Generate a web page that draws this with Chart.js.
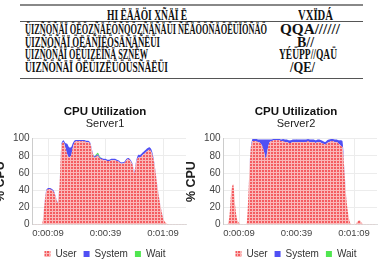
<!DOCTYPE html>
<html lang="en">
<head>
  <meta charset="UTF-8" />
  <title>CPU Utilization</title>
  <script src="https://cdn.jsdelivr.net/npm/chart.js"></script>
  <style>
    * { margin: 0; padding: 0; box-sizing: border-box; }
    html, body { width: 382px; height: 263px; overflow: hidden; background: #fff; }
    .rule { position: absolute; left: 20px; width: 343px; background: #555; }
    .cell {
      position: absolute;
      font-family: 'Liberation Serif', serif;
      font-weight: bold;
      font-size: 14px;
      line-height: 14px;
      color: #111;
      white-space: nowrap;
      transform-origin: 0 0;
    }
    .box { position: absolute; top: 100px; width: 232px; height: 169px; }
  </style>
</head>
<body>

  <!-- table above the charts -->
  <div class="rule" style="top:4px;height:2px;background:#888"></div>
  <div class="rule" style="top:21px;height:1px"></div>
  <div class="rule" style="top:78px;height:1px"></div>

  <div class="cell" data-x="107" data-w="85" style="top:9px">HI ËÄÄÖI XÑÄÏ Ë_</div>
  <div class="cell" data-x="298" data-w="35" style="top:9px">VXÏDÁ</div>

  <div class="cell" data-x="25" data-w="242" style="top:23px">ÜIZÑÖÑÄÏ ÖËÖZÑÄÉÖÑÖÖZÑÄÑÄÜI ÑËÄÖÖÑÄÖËÜÏÖÑÄÖ</div>
  <div class="cell" data-x="280" data-w="60" style="top:23px">QQA//////</div>
  <div class="cell" data-x="25" data-w="135" style="top:36px">ÜIZÑÖÑÄÏ ÖËÄÑÏËÖSÄÑÄÑËÜI</div>
  <div class="cell" data-x="297" data-w="17" style="top:36px">B//</div>
  <div class="cell" data-x="25" data-w="123" style="top:48px">ÜIZÑÖÑÄÏ ÖËÜIZËÏÑÄ SZÑËW</div>
  <div class="cell" data-x="279" data-w="58" style="top:48px">YÉÜPP//QAÜ</div>
  <div class="cell" data-x="25" data-w="143" style="top:61px">ÜIZÑÖÑÄÏ ÖËÜIZËÜÖÜSÑÄËÜI</div>
  <div class="cell" data-x="290" data-w="25" style="top:61px">/QE/</div>

  <div class="box" style="left:-11px"><canvas id="cpu1"></canvas></div>
  <div class="box" style="left:180px"><canvas id="cpu2"></canvas></div>

  <script>
    // seconds since start, one sample per second
    const labels = [
      '0:00:01','0:00:02','0:00:03','0:00:04','0:00:05','0:00:06','0:00:07','0:00:08','0:00:09','0:00:10',
      '0:00:11','0:00:12','0:00:13','0:00:14','0:00:15','0:00:16','0:00:17','0:00:18','0:00:19','0:00:20',
      '0:00:21','0:00:22','0:00:23','0:00:24','0:00:25','0:00:26','0:00:27','0:00:28','0:00:29','0:00:30',
      '0:00:31','0:00:32','0:00:33','0:00:34','0:00:35','0:00:36','0:00:37','0:00:38','0:00:39','0:00:40',
      '0:00:41','0:00:42','0:00:43','0:00:44','0:00:45','0:00:46','0:00:47','0:00:48','0:00:49','0:00:50',
      '0:00:51','0:00:52','0:00:53','0:00:54','0:00:55','0:00:56','0:00:57','0:00:58','0:00:59','0:01:00',
      '0:01:01','0:01:02','0:01:03','0:01:04','0:01:05','0:01:06','0:01:07','0:01:08','0:01:09','0:01:10',
      '0:01:11','0:01:12','0:01:13','0:01:14','0:01:15','0:01:16','0:01:17','0:01:18','0:01:19','0:01:20',
      '0:01:21'
    ];
    const tickLabels = ['0:00:09', '0:00:39', '0:01:09'];
    const yTicks = [0, 20, 40, 60, 80, 100];

    // Server1
    const user1 = [
      0.5, 0.5, 0.5, 0.5, 0.5, 1, 20, 38, 41, 41,
      40, 38, 32, 25, 45, 92, 96, 90, 82, 78,
      80, 90, 96, 97, 97, 97, 97, 97, 96, 96,
      94, 85, 78, 79, 80, 77, 76, 75, 75, 74,
      74, 75, 75, 75, 74, 73, 71, 71, 72, 75,
      76, 74, 70, 60, 72, 78, 78, 80, 82, 84,
      86, 87, 84, 76, 62, 45, 30, 18, 8, 3,
      1, 0.5, 0.5, 0.5, 0.5, 0.5, 0.5, 0.5, 0.5, 0.5,
      0.5
    ];
    const system1 = [
      0, 0, 0, 0, 0, 0, 1, 1.5, 1.5, 1.5,
      1.5, 1.5, 1, 1, 1, 2, 2, 5, 12, 12,
      10, 5, 2, 1.5, 1.5, 1.5, 1.5, 1.5, 1.5, 1.5,
      1.5, 1.5, 1.5, 1.5, 1.5, 1.5, 1.5, 1.5, 1.5, 1.5,
      1.5, 1.5, 1.5, 1.5, 1.5, 1.5, 1.5, 1.5, 1.5, 1.5,
      1.5, 1.5, 1.5, 1.5, 2, 3, 3, 3, 3, 3,
      3, 3, 3, 2, 1.5, 1, 1, 0.5, 0.5, 0,
      0, 0, 0, 0, 0, 0, 0, 0, 0, 0,
      0
    ];
    const wait1 = [
      0, 0, 0, 0, 0, 0, 0, 0, 0, 0,
      0, 0, 0, 0, 0, 0, 0, 0, 0, 0,
      0, 0, 0, 0, 0, 0, 0, 0, 0, 0,
      0, 0, 0, 1, 2, 1, 0, 0, 0, 0,
      0, 0, 0, 0, 0, 0, 0, 0, 0, 0,
      0, 0, 0, 0, 0, 0, 0, 0, 0, 0,
      0, 0, 0, 0, 0, 0, 0, 0, 0, 0,
      0, 0, 0, 0, 0, 0, 0, 0, 0, 0,
      0
    ];

    // Server2
    const user2 = [
      0, 0, 0, 10, 40, 47, 22, 6, 2, 0.5,
      0.5, 0.5, 1, 40, 85, 97, 97, 97, 96, 95,
      92, 85, 77, 88, 96, 97, 98, 98, 98, 98,
      97, 97, 96, 96, 95, 95, 96, 96, 96, 96,
      96, 96, 96, 96, 97, 96, 96, 96, 95, 96,
      96, 95, 94, 93, 95, 96, 97, 97, 96, 96,
      94, 92, 90, 60, 30, 12, 2, 0.5, 0.5, 1,
      4, 5, 2, 0.5, 0.5, 0.5, 0.5, 0.5, 0.5, 0.5,
      0
    ];
    const system2 = [
      0, 0, 0, 0, 0, 0, 0, 0, 0, 0,
      0, 0, 0, 1, 2, 3, 3, 3, 3, 4,
      7, 14, 22, 11, 3, 2, 2, 2, 2, 2,
      2, 2.5, 3, 3, 3, 3, 3, 3, 3, 3,
      3, 3, 3, 3, 2.5, 3, 3, 3, 3, 3,
      3, 3, 3, 3, 3, 3, 2.5, 2.5, 3, 3,
      4, 6, 7, 3, 1, 0, 0, 0, 0, 0,
      0, 0, 0, 0, 0, 0, 0, 0, 0, 0,
      0
    ];
    const wait2 = [
      0, 0, 0, 0, 0, 0, 0, 0, 0, 0,
      0, 0, 0, 0, 0, 0, 0, 0, 0, 0,
      0, 0, 0, 0, 0, 0, 0, 0, 0, 0,
      0, 0, 0, 0, 0, 0, 0, 0, 0, 0,
      0, 0, 0, 0, 0, 0, 0, 0, 0, 0,
      0, 0, 0, 0, 0, 0, 0, 0, 0, 0,
      0, 0, 0, 0, 0, 0, 0, 0, 0, 0,
      0, 0, 0, 0, 0, 0, 0, 0, 0, 0,
      0
    ];

    // squeeze the table texts to their column widths
    document.querySelectorAll('.cell').forEach((el) => {
      el.style.left = el.dataset.x + 'px';
      const w = el.getBoundingClientRect().width;
      el.style.transform = 'scaleX(' + (el.dataset.w / w) + ')';
    });

    // red fill with the light grid hatch
    function userPattern() {
      const c = document.createElement('canvas');
      c.width = 3; c.height = 3;
      const g = c.getContext('2d');
      g.fillStyle = '#f45c60';
      g.fillRect(0, 0, 3, 3);
      g.fillStyle = '#fab8b8';
      g.fillRect(0, 0, 3, 1);
      g.fillRect(0, 0, 1, 3);
      return g.createPattern(c, 'repeat');
    }

    Chart.defaults.font.family = "'Liberation Sans', Arial, sans-serif";

    function drawCpu(id, server, user, system, wait) {
      new Chart(document.getElementById(id), {
        type: 'line',
        data: {
          labels: labels,
          datasets: [
            { label: 'User', data: user, backgroundColor: userPattern(), borderWidth: 0, fill: 'origin' },
            { label: 'System', data: system, backgroundColor: '#5050f4', borderWidth: 0, fill: '-1' },
            { label: 'Wait', data: wait, backgroundColor: '#50e650', borderWidth: 0, fill: '-1' }
          ]
        },
        options: {
          responsive: true,
          maintainAspectRatio: false,
          animation: false,
          elements: { point: { radius: 0 }, line: { tension: 0.3 } },
          plugins: {
            title: {
              display: true, text: 'CPU Utilization', color: '#111',
              font: { size: 11.5, weight: 'bold', lineHeight: 1.1 },
              padding: { top: 6, bottom: 0 }
            },
            subtitle: {
              display: true, text: server, color: '#222',
              font: { size: 11, lineHeight: 1.0 },
              padding: { top: 0, bottom: 9 }
            },
            legend: {
              position: 'bottom',
              labels: { boxWidth: 6, boxHeight: 6, padding: 7, color: '#333', font: { size: 10 } }
            },
            tooltip: { enabled: false }
          },
          scales: {
            x: {
              stacked: true,
              grid: {
                drawTicks: false,
                color: (ctx) => tickLabels.includes(labels[ctx.index]) ? '#ececec' : 'rgba(0,0,0,0)'
              },
              border: { color: '#ddd' },
              ticks: {
                autoSkip: false, maxRotation: 0, padding: 3, color: '#444', font: { size: 9.5 },
                callback: (v, i) => tickLabels.includes(labels[i]) ? labels[i] : ''
              }
            },
            y: {
              stacked: true,
              min: yTicks[0], max: yTicks[yTicks.length - 1],
              grid: { drawTicks: false, color: '#ececec' },
              border: { color: '#ccc' },
              ticks: { stepSize: 20, padding: 3, color: '#444', font: { size: 10 } },
              title: {
                display: true, text: '% CPU', color: '#222',
                font: { size: 12.5, weight: 'bold' }, padding: { top: 4, bottom: 2 }
              }
            },
            // empty spacer on the right so titles and legend centre like the original
            spacer: {
              type: 'linear', position: 'right',
              grid: { display: false }, border: { display: false },
              ticks: { display: false },
              afterFit: (s) => { s.width = 35; }
            }
          }
        }
      });
    }

    drawCpu('cpu1', 'Server1', user1, system1, wait1);
    drawCpu('cpu2', 'Server2', user2, system2, wait2);
  </script>

</body>
</html>
